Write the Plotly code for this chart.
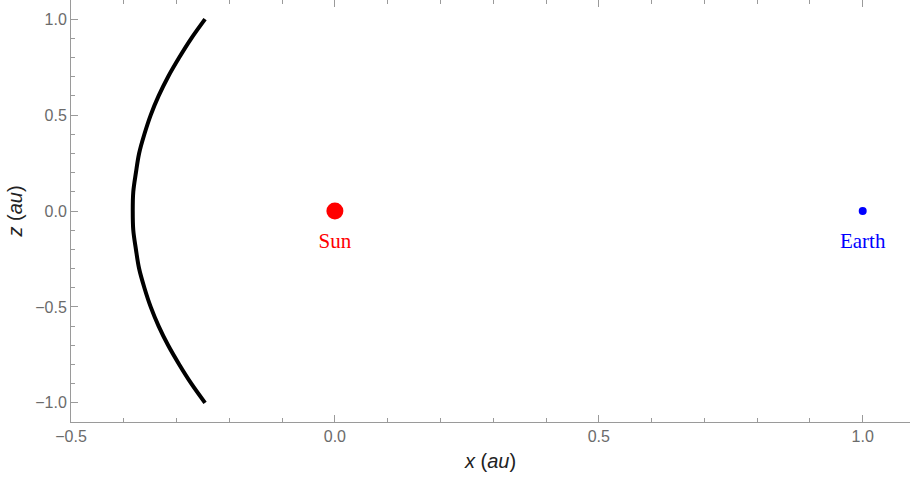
import plotly.graph_objects as go

# Trajectory in the x-z plane (au)
traj_z = [-1.0, -0.9, -0.8, -0.7, -0.6, -0.5, -0.4, -0.3, -0.2, -0.1, 0.0,
          0.1, 0.2, 0.3, 0.4, 0.5, 0.6, 0.7, 0.8, 0.9, 1.0]
traj_x = [-0.246, -0.272, -0.295, -0.316, -0.334, -0.349, -0.361, -0.371, -0.377, -0.382, -0.383,
          -0.382, -0.377, -0.371, -0.361, -0.349, -0.334, -0.316, -0.295, -0.272, -0.246]

# Bodies
body_names = ["Sun", "Earth"]
body_x = [0.0, 1.0]
body_z = [0.0, 0.0]
body_colors = ["#ff0000", "#0000ff"]
body_sizes = [17, 8]
label_offset = -0.165

fig = go.Figure()

fig.add_trace(go.Scatter(
    x=traj_x, y=traj_z, mode="lines",
    line=dict(color="black", width=4, shape="spline"),
    hoverinfo="skip", showlegend=False,
))

fig.add_trace(go.Scatter(
    x=body_x, y=body_z, mode="markers",
    marker=dict(color=body_colors, size=body_sizes, opacity=1, line=dict(width=0)),
    opacity=1, showlegend=False,
))

fig.add_trace(go.Scatter(
    x=body_x, y=[z + label_offset for z in body_z], mode="text",
    text=body_names,
    textfont=dict(family="Liberation Serif, Times New Roman, serif", size=21, color=body_colors),
    showlegend=False,
))

axis_common = dict(
    showgrid=False, zeroline=False,
    showline=True, linecolor="#9a9a9a", linewidth=1,
    ticks="inside", ticklen=7, tickwidth=1, tickcolor="#9a9a9a",
    tickfont=dict(family="Liberation Sans, Arial, sans-serif", size=16, color="#6b6b6b"),
    tickformat=".1f",
)

fig.update_xaxes(
    **axis_common,
    range=[-0.5, 1.0896], tickvals=[-0.5, 0.0, 0.5, 1.0],
    minor=dict(tickvals=[-0.4, -0.3, -0.2, -0.1, 0.1, 0.2, 0.3, 0.4, 0.6, 0.7, 0.8, 0.9],
               ticks="inside", ticklen=4, tickcolor="#9a9a9a"),
    mirror="allticks",
    title=dict(text="<i>x</i> (<i>au</i>)", standoff=9,
               font=dict(family="Liberation Sans, Arial, sans-serif", size=20, color="#222222")),
)

fig.update_yaxes(
    **axis_common,
    range=[-1.1, 1.1], tickvals=[-1.0, -0.5, 0.0, 0.5, 1.0],
    minor=dict(dtick=0.1, tick0=0, ticks="inside", ticklen=4, tickcolor="#9a9a9a"),
    title=dict(text="<i>z</i> (<i>au</i>)", standoff=7,
               font=dict(family="Liberation Sans, Arial, sans-serif", size=20, color="#222222")),
)

fig.update_layout(
    width=910, height=480,
    margin=dict(l=71, r=0, t=0, b=58),
    paper_bgcolor="white", plot_bgcolor="white",
    showlegend=False,
)

fig.write_html("out.html")
